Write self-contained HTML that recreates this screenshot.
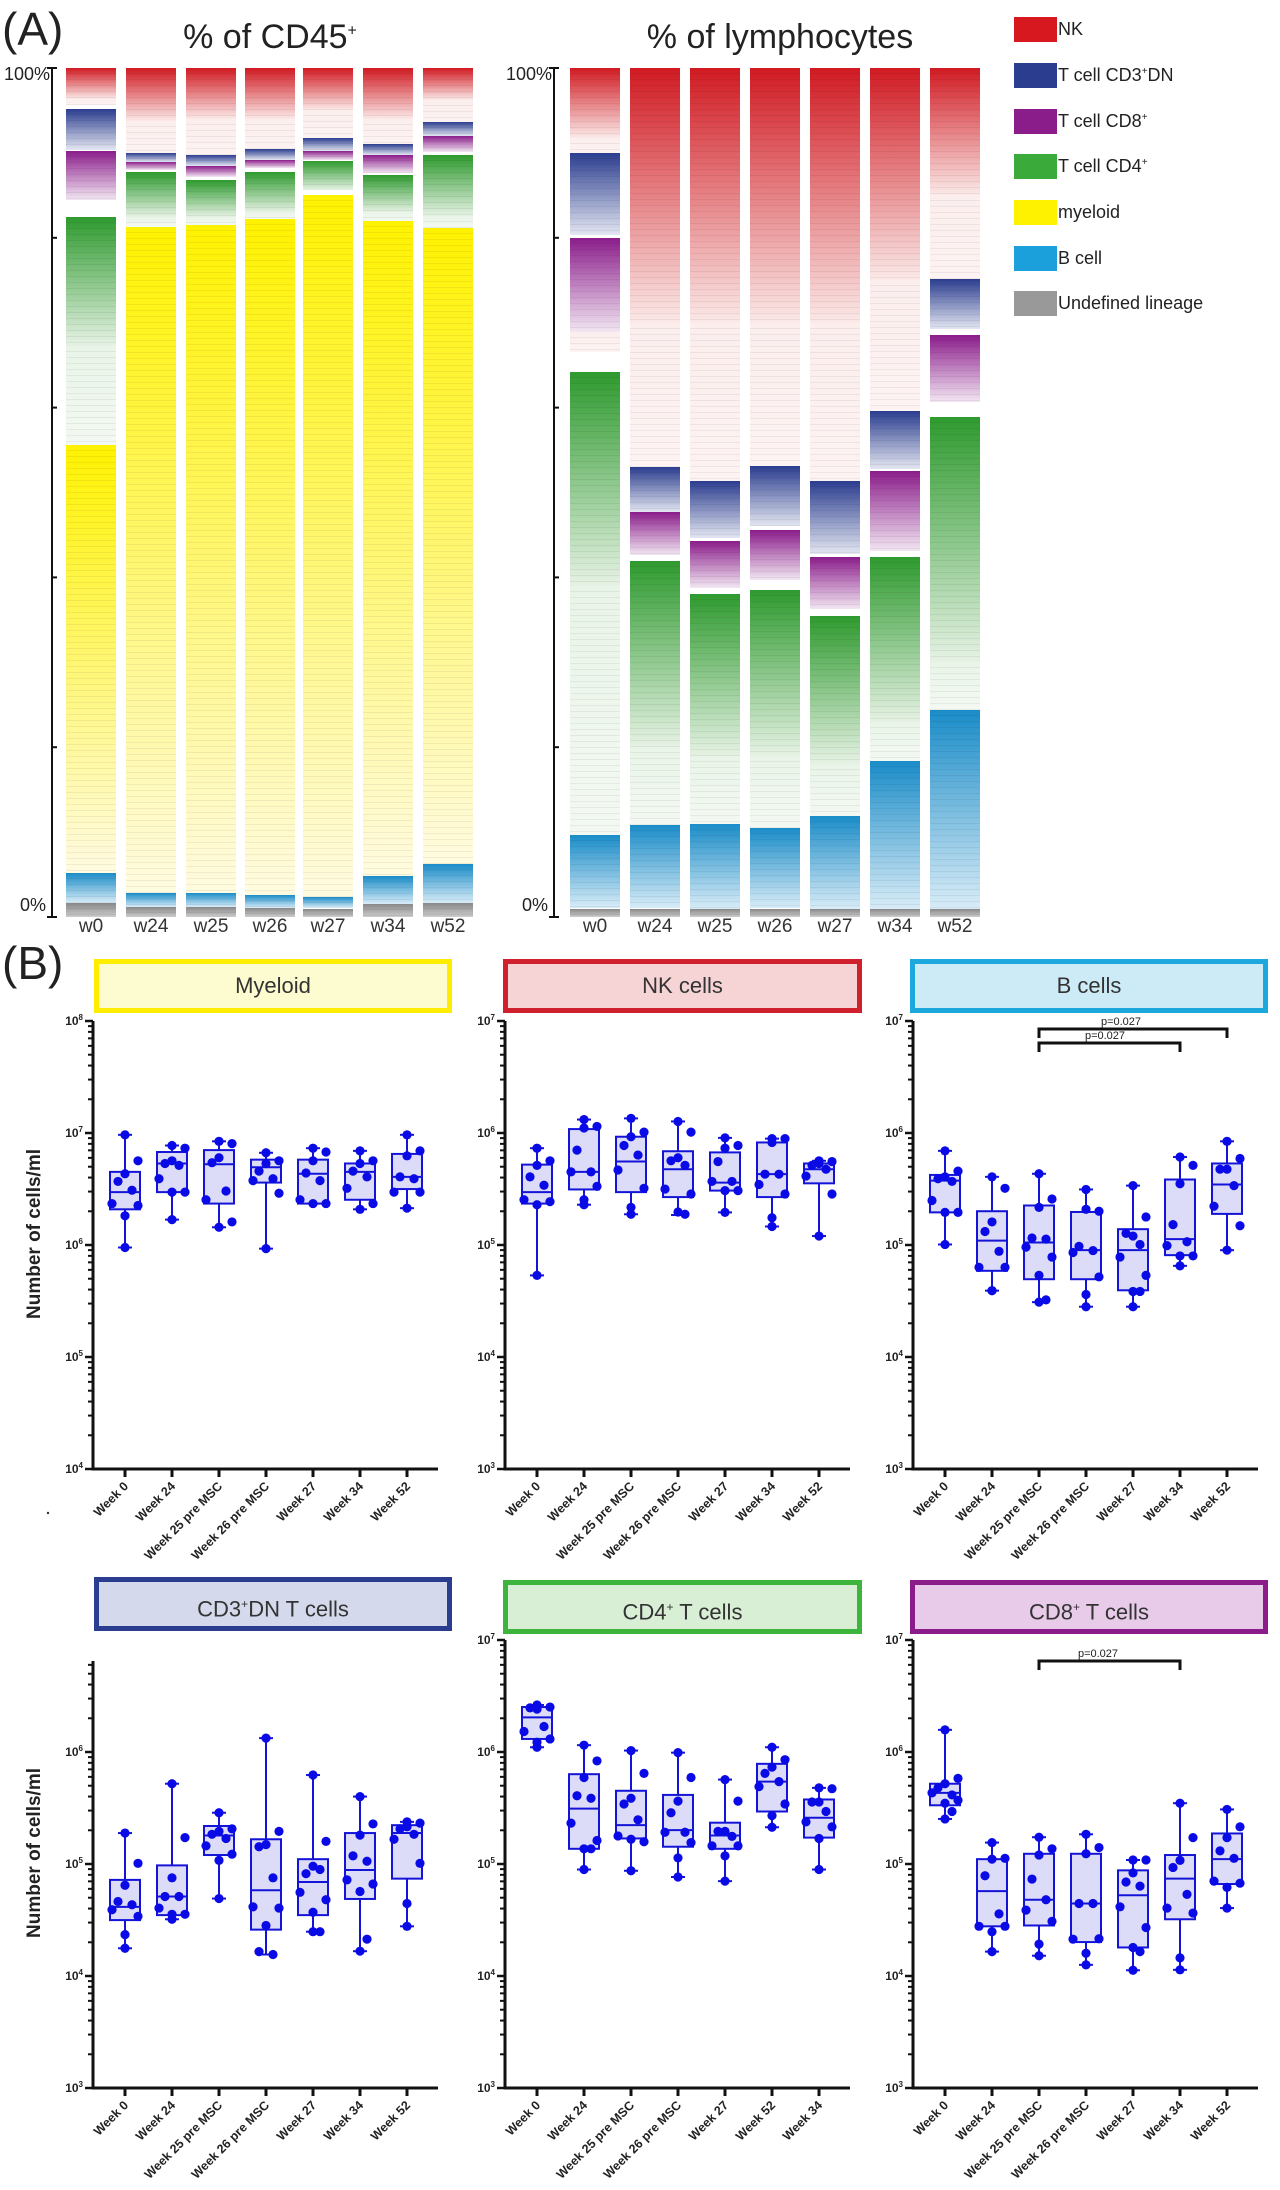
<!DOCTYPE html>
<html><head><meta charset="utf-8">
<style>
html,body{margin:0;padding:0;background:#fff;}
body{width:1280px;height:2190px;position:relative;overflow:hidden;font-family:"Liberation Sans",Arial,sans-serif;color:#222;}
.abs{position:absolute;}
.bar{position:absolute;top:68px;height:849px;width:50px;background:#fff;}
.seg{position:absolute;left:0;width:100%;}
.seg::after{content:"";position:absolute;inset:0;background:repeating-linear-gradient(to bottom,transparent 0 5px,rgba(0,0,0,0.06) 5px 6px);}
.wl{position:absolute;top:916px;width:50px;text-align:center;font-size:19px;color:#333;}
.lg{position:absolute;left:1014px;width:43px;height:25px;}
.lt{position:absolute;left:1058px;font-size:18px;color:#222;}
.tb{position:absolute;box-sizing:border-box;border:5px solid;text-align:center;font-size:22px;color:#333;}
</style></head><body>
<div class="abs" style="left:2px;top:2px;font-size:46px;">(A)</div>
<div class="abs" style="left:170px;top:18px;font-size:34px;width:200px;text-align:center;">% of CD45<sup style="font-size:16px">+</sup></div>
<div class="abs" style="left:630px;top:18px;font-size:34px;width:300px;text-align:center;">% of lymphocytes</div>
<div class="abs" style="left:4px;top:64px;font-size:18px;">100%</div>
<div class="abs" style="left:506px;top:64px;font-size:18px;">100%</div>
<div class="abs" style="left:20px;top:895px;font-size:18px;">0%</div>
<div class="abs" style="left:522px;top:895px;font-size:18px;">0%</div>
<div id="A"></div>
<div class="lg" style="top:17px;background:#d7191f"></div><div class="lt" style="top:19px">NK</div>
<div class="lg" style="top:63px;background:#2b3d8f"></div><div class="lt" style="top:65px">T cell CD3<sup style="font-size:10px">+</sup>DN</div>
<div class="lg" style="top:109px;background:#8b1d8b"></div><div class="lt" style="top:111px">T cell CD8<sup style="font-size:10px">+</sup></div>
<div class="lg" style="top:154px;background:#3aab3a"></div><div class="lt" style="top:156px">T cell CD4<sup style="font-size:10px">+</sup></div>
<div class="lg" style="top:200px;background:#fff200"></div><div class="lt" style="top:202px">myeloid</div>
<div class="lg" style="top:246px;background:#1ca0dc"></div><div class="lt" style="top:248px">B cell</div>
<div class="lg" style="top:291px;background:#999"></div><div class="lt" style="top:293px">Undefined lineage</div>

<div class="abs" style="left:2px;top:936px;font-size:46px;">(B)</div>
<div class="tb" style="left:94px;top:959px;width:358px;height:54px;line-height:44px;border-color:#ffed00;background:#fdfbd0">Myeloid</div>
<div class="tb" style="left:503px;top:959px;width:359px;height:54px;line-height:44px;border-color:#d0202e;background:#f6d3d5">NK cells</div>
<div class="tb" style="left:910px;top:959px;width:358px;height:54px;line-height:44px;border-color:#1ca8dc;background:#cdeaf7">B cells</div>
<div class="tb" style="left:94px;top:1577px;width:358px;height:54px;line-height:44px;border-color:#2b3d8f;background:#d5d9ec">CD3<sup style="font-size:12px">+</sup>DN T cells</div>
<div class="tb" style="left:503px;top:1580px;width:359px;height:54px;line-height:44px;border-color:#3db53d;background:#d8efd6">CD4<sup style="font-size:12px">+</sup> T cells</div>
<div class="tb" style="left:910px;top:1580px;width:358px;height:54px;line-height:44px;border-color:#8b1d8b;background:#e8cbe8">CD8<sup style="font-size:12px">+</sup> T cells</div>
<svg id="B" class="abs" style="left:0;top:0" width="1280" height="2190" xmlns="http://www.w3.org/2000/svg">
<line x1="52" y1="68" x2="52" y2="917" stroke="#111" stroke-width="2"/>
<line x1="554" y1="68" x2="554" y2="917" stroke="#111" stroke-width="2"/>
</svg>
<script>
(function(){
var A=document.getElementById('A');
var C={r:['#d11a22','#fbe9e8'],p:['#fbeeed','#fdf3f2'],b:['#2b3d8f','#e3e6f1'],u:['#8b1d8b','#f2e6f2'],g:['#2e9a2e','#e6f2e4'],pg:['#e9f4e8','#f3f9f2'],y:['#fff200','#fffbe0'],c:['#1a8cc8','#d8ecf7'],k:['#888','#ccc']};
function bar(x,segs){var h='';segs.forEach(function(s){var c=C[s[2]];h+='<div class="seg" style="top:'+(s[0]*8.49)+'px;height:'+((s[1]-s[0])*8.49)+'px;background:linear-gradient('+c[0]+','+c[1]+')"></div>';});
A.insertAdjacentHTML('beforeend','<div class="bar" style="left:'+x+'px">'+h+'</div>');}
var L=[66,126,186,245,303,363,423];
bar(66,[[0,3.7,'r'],[3.7,4.3,'p'],[4.8,9.6,'b'],[9.8,15.6,'u'],[17.6,32.8,'g'],[32.8,44.4,'pg'],[44.4,94.8,'y'],[94.8,98.4,'c'],[98.4,100,'k']]);
bar(126,[[0,6.3,'r'],[6.3,10,'p'],[10,11.1,'b'],[11.1,12,'u'],[12.3,17.6,'g'],[17.6,18.7,'pg'],[18.7,97.2,'y'],[97.2,98.8,'c'],[98.8,100,'k']]);
bar(186,[[0,6,'r'],[6,10.2,'p'],[10.2,11.6,'b'],[11.6,12.8,'u'],[13.2,17.5,'g'],[17.5,18.5,'pg'],[18.5,97.2,'y'],[97.2,98.8,'c'],[98.8,100,'k']]);
bar(245,[[0,6,'r'],[6,9.5,'p'],[9.5,10.8,'b'],[10.8,11.8,'u'],[12.2,17,'g'],[17,17.8,'pg'],[17.8,97.4,'y'],[97.4,98.9,'c'],[98.9,100,'k']]);
bar(303,[[0,5,'r'],[5,8.3,'p'],[8.3,9.8,'b'],[9.8,10.8,'u'],[11,14.4,'g'],[15,97.6,'y'],[97.6,99,'c'],[99,100,'k']]);
bar(363,[[0,6,'r'],[6,8.9,'p'],[8.9,10.3,'b'],[10.3,12.4,'u'],[12.6,17,'g'],[17,18,'pg'],[18,95.2,'y'],[95.2,98.5,'c'],[98.5,100,'k']]);
bar(423,[[0,3.8,'r'],[3.8,6.4,'p'],[6.4,8,'b'],[8,9.9,'u'],[10.2,17.4,'g'],[17.4,18.8,'pg'],[18.8,93.8,'y'],[93.8,98.4,'c'],[98.4,100,'k']]);
bar(570,[[0,8.2,'r'],[8.2,10,'p'],[10,19.7,'b'],[20,31.1,'u'],[31.1,33.5,'p'],[35.8,61,'g'],[61,90.4,'pg'],[90.4,99,'c'],[99,100,'k']]);
bar(630,[[0,30,'r'],[30,47,'p'],[47,52.3,'b'],[52.3,57.4,'u'],[58.1,80,'g'],[80,89.2,'pg'],[89.2,99,'c'],[99,100,'k']]);
bar(690,[[0,30,'r'],[30,48.6,'p'],[48.6,55.4,'b'],[55.7,61.2,'u'],[62,81,'g'],[81,89,'pg'],[89,99,'c'],[99,100,'k']]);
bar(750,[[0,30,'r'],[30,46.9,'p'],[46.9,54,'b'],[54.4,60.3,'u'],[61.5,81,'g'],[81,89.5,'pg'],[89.5,99,'c'],[99,100,'k']]);
bar(810,[[0,30,'r'],[30,48.7,'p'],[48.7,57.3,'b'],[57.6,63.7,'u'],[64.6,82,'g'],[82,88.1,'pg'],[88.1,99,'c'],[99,100,'k']]);
bar(870,[[0,25,'r'],[25,40.4,'p'],[40.4,47.2,'b'],[47.5,56.9,'u'],[57.6,77,'g'],[77,81.6,'pg'],[81.6,99,'c'],[99,100,'k']]);
bar(930,[[0,15,'r'],[15,24.8,'p'],[24.8,30.7,'b'],[31.4,39.4,'u'],[41.1,70,'g'],[70,75.6,'pg'],[75.6,99,'c'],[99,100,'k']]);
var W=['w0','w24','w25','w26','w27','w34','w52'];
L.forEach(function(x,i){A.insertAdjacentHTML('beforeend','<div class="wl" style="left:'+x+'px">'+W[i]+'</div>');});
[570,630,690,750,810,870,930].forEach(function(x,i){A.insertAdjacentHTML('beforeend','<div class="wl" style="left:'+x+'px">'+W[i]+'</div>');});

var S=document.getElementById('B'),o='';
[52,554].forEach(function(x){for(var i=0;i<=5;i++){var y=68+i*169.8;o+='<line x1="'+(i==0||i==5?x-5:x)+'" y1="'+y+'" x2="'+(x+5)+'" y2="'+y+'" stroke="#111" stroke-width="2"/>';}});
var N1=['Week 0','Week 24','Week 25 pre MSC','Week 26 pre MSC','Week 27','Week 34','Week 52'];
var N2=['Week 0','Week 24','Week 25 pre MSC','Week 26 pre MSC','Week 27','Week 52','Week 34'];
function sup(e){return '10<tspan dy="-5" font-size="8">'+e+'</tspan>';}
function panel(P){
 var ax=P.ax,yb=P.yb,yt=P.yt,d=112;
 o+='<line x1="'+ax+'" y1="'+yt+'" x2="'+ax+'" y2="'+(yb+1.5)+'" stroke="#111" stroke-width="3"/>';
 o+='<line x1="'+(ax-1.5)+'" y1="'+yb+'" x2="'+(ax+345)+'" y2="'+yb+'" stroke="#111" stroke-width="3"/>';
 for(var i=0;i<4;i++){var y0=yb-i*d;
  for(var m=2;m<=9;m++){var y=y0-Math.log10(m)*d;if(y<yt-1)continue;o+='<line x1="'+(ax-5)+'" y1="'+y+'" x2="'+ax+'" y2="'+y+'" stroke="#111" stroke-width="2"/>';}}
 for(var i=0;i<=4;i++){var y=yb-i*d;if(y<yt-2)continue;o+='<line x1="'+(ax-8)+'" y1="'+y+'" x2="'+ax+'" y2="'+y+'" stroke="#111" stroke-width="2.5"/>';
  o+='<text x="'+(ax-10)+'" y="'+(y+4)+'" text-anchor="end" font-size="12" font-weight="bold" fill="#222">'+sup(P.lo+i)+'</text>';}
 P.names.forEach(function(n,i){var cx=ax+32+i*47;o+='<line x1="'+cx+'" y1="'+yb+'" x2="'+cx+'" y2="'+(yb+8)+'" stroke="#111" stroke-width="3"/>';
  o+='<text transform="translate('+(cx+4)+','+(yb+18)+') rotate(-45)" text-anchor="end" font-size="12.5" font-weight="bold" fill="#222">'+n+'</text>';});
 P.data.forEach(function(D,i){var cx=ax+32+i*47;function Y(p){return P.Y0+p*P.k;}
  var mx=Y(D[0]),q3=Y(D[1]),md=Y(D[2]),q1=Y(D[3]),mn=Y(D[4]);
  o+='<line x1="'+cx+'" y1="'+mx+'" x2="'+cx+'" y2="'+mn+'" stroke="#1414d8" stroke-width="2"/>';
  o+='<line x1="'+(cx-7)+'" y1="'+mx+'" x2="'+(cx+7)+'" y2="'+mx+'" stroke="#1414d8" stroke-width="2"/><line x1="'+(cx-7)+'" y1="'+mn+'" x2="'+(cx+7)+'" y2="'+mn+'" stroke="#1414d8" stroke-width="2"/>';
  o+='<rect x="'+(cx-15)+'" y="'+q3+'" width="30" height="'+(q1-q3)+'" fill="#dcdcf8" stroke="#1414d8" stroke-width="2"/>';
  o+='<line x1="'+(cx-15)+'" y1="'+md+'" x2="'+(cx+15)+'" y2="'+md+'" stroke="#1414d8" stroke-width="2"/>';
  var J=[-13,13,0,-7,7,-13,13,0,7,-7],pts=D[5];
  pts.forEach(function(p,j){var y=Y(p),dx=(p==D[0]||p==D[4])&&(j==0||j==pts.length-1)?0:J[j%10];
   o+='<circle cx="'+(cx+dx)+'" cy="'+y+'" r="4.6" fill="#0a0ae6"/>';});
 });
}
var R1={Y0:940,k:0.382},R2={Y0:1540,k:0.4145};
panel({ax:93,yt:1021,yb:1469,lo:4,names:N1,Y0:R1.Y0,k:R1.k,data:[
[510,607,660,705,805,[510,578,612,632,655,690,695,722,805]],
[538,555,585,660,732,[538,545,578,585,590,625,660,660,732]],
[527,550,587,690,752,[527,533,570,583,657,680,738,752]],
[557,575,595,635,808,[557,578,585,605,625,630,663,808]],
[545,575,612,690,690,[545,555,578,610,630,680,690,690]],
[552,585,607,680,705,[552,578,585,605,620,650,690,705]],
[510,560,620,652,702,[510,552,565,620,625,660,660,702]]]});
panel({ax:505,yt:1021,yb:1469,lo:3,names:N1,Y0:R1.Y0,k:R1.k,data:[
[545,588,660,690,878,[545,578,590,620,642,680,685,693,878]],
[470,495,607,653,693,[470,488,492,550,607,607,645,680,693]],
[467,515,580,660,718,[467,503,515,538,563,602,650,700,718]],
[475,553,600,673,720,[475,503,570,578,590,652,665,712,718]],
[518,556,635,656,713,[518,538,545,580,632,632,656,656,713]],
[520,530,613,673,750,[520,520,530,613,613,640,665,727,750]],
[578,585,600,637,775,[578,580,585,590,600,618,665,775]]]});
panel({ax:913,yt:1021,yb:1469,lo:3,names:N1,Y0:R1.Y0,k:R1.k,data:[
[552,615,630,713,797,[552,605,620,625,632,682,713,713,797]],
[620,710,787,866,918,[620,650,738,763,815,857,857,918,918]],
[612,695,792,888,948,[612,678,700,780,783,804,830,878,942,948]],
[653,712,812,888,960,[653,710,705,802,813,818,882,928,960]],
[643,757,812,917,960,[643,725,775,768,797,830,878,920,920,960]],
[568,627,783,825,853,[568,590,638,745,790,800,827,827,853]],
[527,585,640,717,812,[527,572,600,600,643,697,748,812]]]});
panel({ax:93,yt:1661,yb:2088,lo:3,names:N1,Y0:R2.Y0,k:R2.k,data:[
[707,820,885,917,985,[707,780,833,872,880,892,908,952,985]],
[588,785,860,905,915,[588,718,815,860,860,888,903,903,915]],
[658,690,713,760,865,[658,697,703,710,720,738,758,773,865]],
[478,722,845,940,1000,[478,703,735,740,815,885,888,930,1000,993]],
[567,770,825,905,945,[567,727,787,805,795,850,868,898,945,945]],
[619,707,796,866,992,[619,685,712,762,775,820,830,848,963,992]],
[680,688,707,817,932,[680,683,692,697,710,722,780,877,932]]]});
panel({ax:505,yt:1640,yb:2088,lo:3,names:N2,Y0:R2.Y0,k:R2.k,data:[
[398,403,428,480,500,[398,403,408,405,450,462,480,488,500]],
[495,565,648,745,795,[495,533,573,617,623,683,725,745,745,795]],
[508,605,688,720,798,[508,563,623,637,675,714,728,722,798]],
[513,615,700,740,813,[513,573,630,658,705,705,730,767,813]],
[578,682,713,745,823,[578,630,703,703,715,738,738,762,823]],
[500,540,583,655,693,[500,530,548,563,583,595,637,665,693]],
[598,626,670,718,795,[598,600,632,632,655,680,692,720,795]]]});
panel({ax:913,yt:1640,yb:2088,lo:3,names:N1,Y0:R2.Y0,k:R2.k,data:[
[458,588,610,640,673,[458,575,588,598,615,610,628,635,655,673]],
[730,770,847,932,993,[730,768,770,810,902,932,932,945,993]],
[717,757,868,930,1003,[717,745,760,818,868,893,920,975,1003]],
[710,757,877,970,1025,[710,742,757,877,877,963,962,997,1025]],
[772,797,857,983,1038,[772,772,803,825,835,885,935,983,993,1038]],
[635,760,817,915,1037,[635,718,773,790,855,888,900,1008,1037]],
[650,708,770,830,888,[650,692,718,750,768,823,828,838,888]]]});
function br(x1,x2,y,tx,ty){o+='<path d="M'+x1+' '+(y+9)+'V'+y+'H'+x2+'V'+(y+9)+'" fill="none" stroke="#111" stroke-width="3"/>';
 o+='<text x="'+tx+'" y="'+ty+'" text-anchor="middle" font-size="11" fill="#222">p=0.027</text>';}
br(1039,1227,1029,1121,1025);br(1039,1180,1043,1105,1039);br(1039,1180,1661,1098,1657);
o+='<text transform="translate(40,1234) rotate(-90)" text-anchor="middle" font-size="19" font-weight="bold" fill="#222">Number of cells/ml</text>';
o+='<text transform="translate(40,1853) rotate(-90)" text-anchor="middle" font-size="19" font-weight="bold" fill="#222">Number of cells/ml</text>';
o+='<circle cx="48" cy="1513" r="1.2" fill="#333"/>';
S.insertAdjacentHTML('beforeend',o);
})();
</script>
</body></html>
